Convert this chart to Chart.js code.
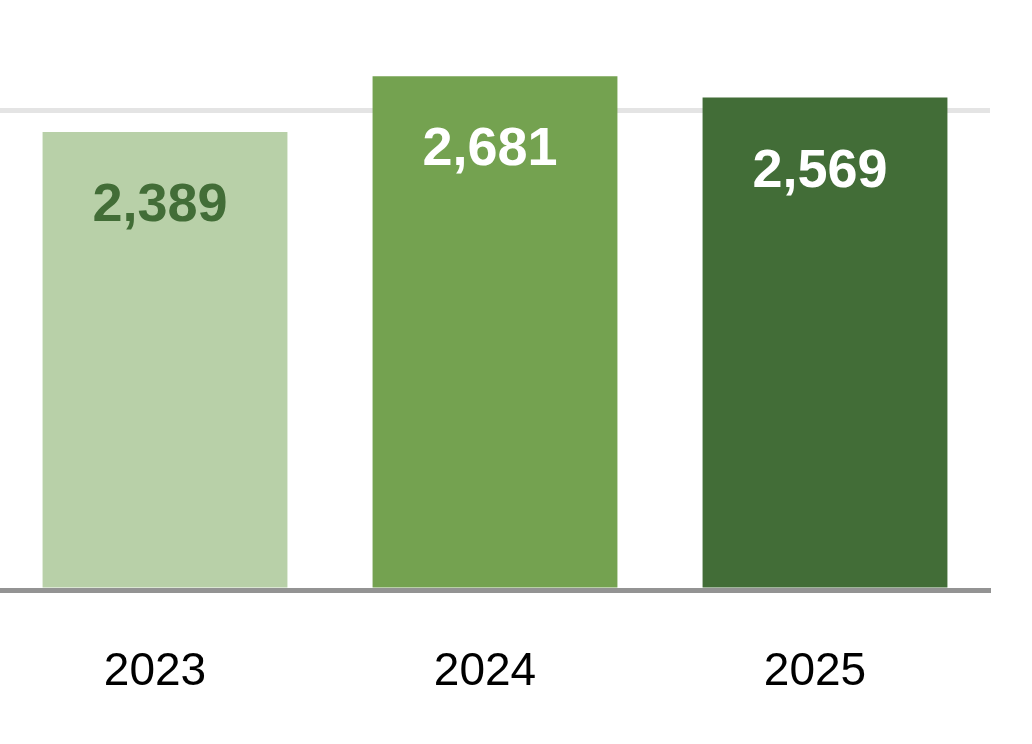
<!DOCTYPE html>
<html>
<head>
<meta charset="utf-8">
<script src="https://cdn.jsdelivr.net/npm/chart.js@4.4.1/dist/chart.umd.min.js"></script>
<style>
  html, body { margin: 0; padding: 0; background: #fff; }
</style>
</head>
<body>
<canvas id="barChart" width="1032" height="744"></canvas>
<script>
const years = ['2023', '2024', '2025'];
const values = [2389, 2681, 2569];
const yTicks = [0, 2500, 3000];
const barColors = ['#b8d0a8', '#74a250', '#426d37'];
const labelColors = ['#426d37', '#ffffff', '#ffffff'];

// value labels inside the top of each bar
const valueLabels = {
    id: 'valueLabels',
    afterDatasetsDraw(chart) {
        const ctx = chart.ctx;
        const meta = chart.getDatasetMeta(0);
        ctx.save();
        ctx.font = 'bold 54px "Liberation Sans", Arial, sans-serif';
        ctx.textAlign = 'center';
        ctx.textBaseline = 'alphabetic';
        meta.data.forEach((bar, i) => {
            ctx.fillStyle = labelColors[i];
            ctx.fillText(values[i].toLocaleString('en-US'), bar.x - 5, bar.y + 89);
        });
        ctx.restore();
    }
};

const barCtx = document.getElementById('barChart').getContext('2d');
new Chart(barCtx, {
    type: 'bar',
    data: {
        labels: years,
        datasets: [{
            data: values,
            backgroundColor: barColors,
            borderWidth: 0,
            barPercentage: 0.742,
            categoryPercentage: 1,
        }],
    },
    options: {
        responsive: false,
        animation: false,
        layout: {
            padding: { left: 0, right: 42, top: 15, bottom: 0 },
        },
        plugins: {
            legend: { display: false },
            tooltip: { enabled: false },
        },
        scales: {
            x: {
                z: 1,
                afterFit: (scale) => { scale.height = 154; },
                grid: { display: false, drawTicks: false },
                border: { display: true, color: '#939393', width: 5 },
                ticks: {
                    color: '#000',
                    font: { family: '"Liberation Sans", Arial, sans-serif', size: 46 },
                    padding: 55,
                    labelOffset: -10,
                },
            },
            y: {
                min: 0,
                max: 3000,
                afterBuildTicks: (scale) => { scale.ticks = yTicks.map(v => ({ value: v })); },
                ticks: { display: false },
                grid: {
                    drawTicks: false,
                    lineWidth: 5,
                    color: (c) => (c.tick && c.tick.value === 2500 ? '#e4e4e4' : 'rgba(0,0,0,0)'),
                },
                border: { display: false },
            },
        },
    },
    plugins: [valueLabels],
});
</script>
</body>
</html>
